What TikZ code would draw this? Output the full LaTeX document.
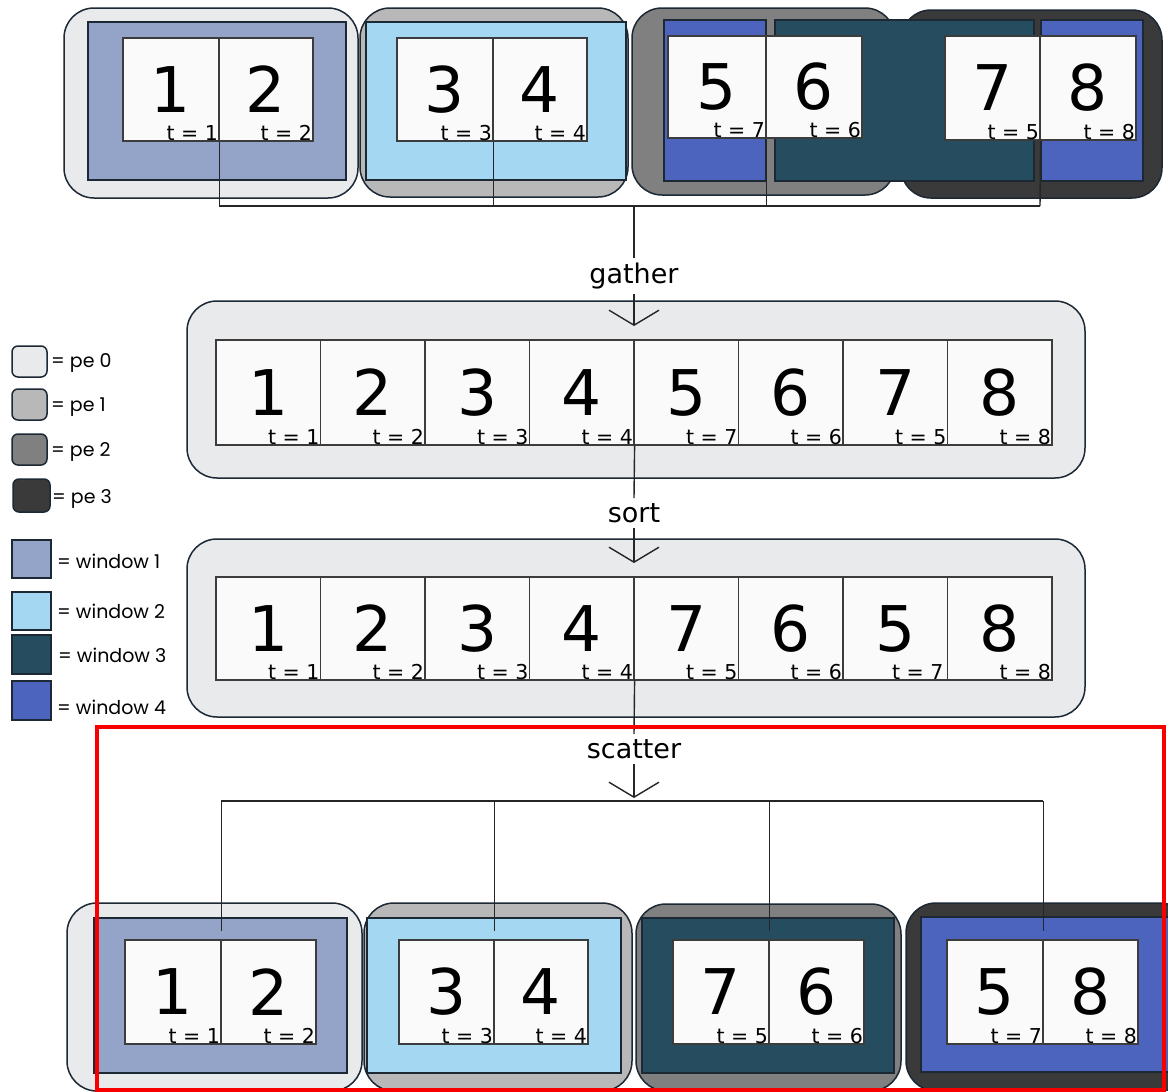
\documentclass[tikz,border=0pt]{standalone}
\usepackage{fontspec}
\setmainfont{DejaVu Sans}
\newfontfamily\popfont{Poppins}
\usetikzlibrary{fit,arrows.meta}
\definecolor{peA}{HTML}{E9EAEC}
\definecolor{peB}{HTML}{B8B8B8}
\definecolor{peC}{HTML}{808080}
\definecolor{peD}{HTML}{3A3A3A}
\definecolor{winA}{HTML}{94A3C8}
\definecolor{winB}{HTML}{A4D8F2}
\definecolor{winC}{HTML}{264C60}
\definecolor{winD}{HTML}{4C64BE}
\definecolor{edgec}{HTML}{1C2834}
\definecolor{cellline}{HTML}{3C3C3C}
\definecolor{cellfill}{HTML}{FAFAFA}
\definecolor{redc}{HTML}{F80000}
\tikzset{
 pebox/.style={draw=edgec, line width=1.5pt, rounded corners=30pt, inner sep=0pt},
 winbox/.style={draw=edgec, line width=1.5pt, inner sep=0pt},
 cellbox/.style={draw=cellline, fill=cellfill, line width=1.2pt, inner sep=0pt},
 bigbox/.style={draw=edgec, fill=peA, line width=1.5pt, rounded corners=30pt, inner sep=0pt},
 bigdigit/.style={font=\fontsize{63}{63}\selectfont, inner sep=0pt},
 tlab/.style={font=\fontsize{20.5}{21}\selectfont, inner sep=0pt, anchor=base east},
 opname/.style={font=\fontsize{27}{27}\selectfont, inner sep=5pt},
 conn/.style={draw=black!85, line width=1.4pt},
 arrowtip/.style={-{Straight Barb[length=15pt,width=50pt]}},
 legtxt/.style={font=\popfont\fontsize{19}{19}\selectfont, anchor=west, inner sep=0pt},
}
\newcommand\mkcell[8]{%
 \node[cellbox, fit={(#2,#3) (#4,#5)}] (#1) {};
 \node[bigdigit] (#1d) at (#1.center) {#6};
 \node[tlab,#8] (#1t) at ([xshift=-1.5pt,yshift=1.5pt]#1.south east) {t = #7};
}
\begin{document}
\begin{tikzpicture}[x=1pt,y=-1pt]
\fill[white] (0,0) rectangle (1168,1092);
\clip (0,0) rectangle (1168,1092);

% ---------- top row ----------
\node[pebox, fill=peA, fit={(64,8) (358,198)}] (tp0) {};
\node[pebox, fill=peB, fit={(360,8) (628,197)}] (tp1) {};
\node[pebox, fill=peC, fit={(632,8) (895,195)}] (tp2) {};
\node[pebox, fill=peD, fit={(901,10) (1162,198)}] (tp3) {};
\node[winbox, fill=winA, fit={(88,22) (346,180)}] (tw1) {};
\node[winbox, fill=winB, fit={(366,22) (626,180)}] (tw2) {};
\node[winbox, fill=winD, fit={(664,20) (766,181)}] (tw4a) {};
\node[winbox, fill=winC, fit={(775,20) (1034,181)}] (tw3) {};
\node[winbox, fill=winD, fit={(1041,20) (1143,181)}] (tw4b) {};
\mkcell{ta}{123}{38}{219}{141}{1}{1}{}
\mkcell{tb}{219}{38}{313}{141}{2}{2}{}
\mkcell{tc}{397}{38}{493}{141}{3}{3}{}
\mkcell{td}{493}{38}{587}{141}{4}{4}{}
\mkcell{te}{668}{36}{766}{138}{5}{7}{}
\mkcell{tf}{766}{36}{862}{138}{6}{6}{}
\mkcell{tg}{945}{36}{1040}{140}{7}{5}{}
\mkcell{th}{1040}{36}{1136}{140}{8}{8}{}

\coordinate (tbusR) at (1040,206);
\coordinate (tbusM) at (634,206);
\draw[conn] (ta.south east) |- (tbusR);
\draw[conn] (tc.south east) -- (tc.south east |- tbusR);
\draw[conn] (te.south east) -- (te.south east |- tbusR);
\draw[conn] (tg.south east) -- (tbusR);

% ---------- gather box ----------
\node[bigbox, fit={(187,301) (1085,478)}] (gbox) {};
\mkcell{ma}{216}{340}{320.5}{445}{1}{1}{}
\mkcell{mb}{320.5}{340}{425}{445}{2}{2}{}
\mkcell{mc}{425}{340}{529.5}{445}{3}{3}{}
\mkcell{md}{529.5}{340}{634}{445}{4}{4}{}
\mkcell{me}{634}{340}{738.5}{445}{5}{7}{}
\mkcell{mf}{738.5}{340}{843}{445}{6}{6}{}
\mkcell{mg}{843}{340}{947.5}{445}{7}{5}{}
\mkcell{mh}{947.5}{340}{1052}{445}{8}{8}{}

\node[opname] (gather) at (634,276) {gather};
\draw[conn] (tbusM) -- (gather.north);
\coordinate (gtip) at (634,326);
\draw[conn, arrowtip] (gather.south) -- (gtip);

% ---------- sort box ----------
\node[bigbox, fit={(187,539) (1085,717)}] (sbox) {};
\mkcell{sa}{216}{577}{320.5}{680}{1}{1}{}
\mkcell{sb}{320.5}{577}{425}{680}{2}{2}{}
\mkcell{sc}{425}{577}{529.5}{680}{3}{3}{}
\mkcell{sd}{529.5}{577}{634}{680}{4}{4}{}
\mkcell{se}{634}{577}{738.5}{680}{7}{5}{}
\mkcell{sf}{738.5}{577}{843}{680}{6}{6}{}
\mkcell{sg}{843}{577}{947.5}{680}{5}{7}{xshift=-3pt}
\mkcell{sh}{947.5}{577}{1052}{680}{8}{8}{}

\node[opname] (sort) at (634,513) {sort};
\draw[conn] (md.south east) -- (sort.north);
\coordinate (stip) at (634,563);
\draw[conn, arrowtip] (sort.south) -- (stip);

% ---------- scatter ----------
\node[opname] (scatter) at (634,749) {scatter};
\draw[conn] (sd.south east) -- (scatter.north);
\coordinate (ctip) at (634,798);
\draw[conn, arrowtip] (scatter.south) -- (ctip);

% ---------- bottom row ----------
\node[pebox, fill=peA, fit={(67,903) (362,1091)}] (bp0) {};
\node[pebox, fill=peB, fit={(364,903) (632,1091)}] (bp1) {};
\node[pebox, fill=peC, fit={(636,904) (901,1091)}] (bp2) {};
\node[pebox, fill=peD, fit={(906,903) (1190,1091)}] (bp3) {};
\node[winbox, fill=winA, fit={(94,918) (347,1073)}] (bw1) {};
\node[winbox, fill=winB, fit={(367,918) (621,1073)}] (bw2) {};
\node[winbox, fill=winC, fit={(642,918) (894,1073)}] (bw3) {};
\node[winbox, fill=winD, fit={(921,917) (1175,1072)}] (bw4) {};
\mkcell{ba}{125}{940}{221}{1044}{1}{1}{}
\mkcell{bb}{221}{940}{316}{1044}{2}{2}{}
\mkcell{bc}{399}{940}{494}{1044}{3}{3}{}
\mkcell{bd}{494}{940}{588}{1044}{4}{4}{}
\mkcell{be}{673}{940}{769}{1044}{7}{5}{}
\mkcell{bf}{769}{940}{864}{1044}{6}{6}{}
\mkcell{bg}{947}{940}{1043}{1044}{5}{7}{}
\mkcell{bh}{1043}{940}{1138}{1044}{8}{8}{}

\coordinate (cbusL) at (221,801);
\coordinate (cbusR) at (1043,801);
\draw[conn] (cbusL) -- (cbusR);
\draw[conn] (ba.north east |- cbusL) -- ([yshift=8pt]ba.north east);
\draw[conn] (bc.north east |- cbusL) -- ([yshift=8pt]bc.north east);
\draw[conn] (be.north east |- cbusL) -- ([yshift=8pt]be.north east);
\draw[conn] (bg.north east |- cbusL) -- ([yshift=8pt]bg.north east);

% ---------- legend ----------
\node[pebox, rounded corners=6pt, fill=peA, fit={(12,346) (47,377)}] (lp0) {};
\node[legtxt] (lp0t) at (51,363) {= pe 0};
\node[pebox, rounded corners=6pt, fill=peB, fit={(12,389) (47,420)}] (lp1) {};
\node[legtxt] (lp1t) at (51,407) {= pe 1};
\node[pebox, rounded corners=6pt, fill=peC, fit={(12,434) (47,465)}] (lp2) {};
\node[legtxt] (lp2t) at (51,452) {= pe 2};
\node[pebox, rounded corners=6pt, fill=peD, fit={(13,479) (50,512)}] (lp3) {};
\node[legtxt] (lp3t) at (52,499) {= pe 3};
\node[winbox, fill=winA, fit={(12,540) (51,578)}] (lw1) {};
\node[legtxt] (lw1t) at (57,561) {= window 1};
\node[winbox, fill=winB, fit={(12,592) (51,630)}] (lw2) {};
\node[legtxt] (lw2t) at (57,611) {= window 2};
\node[winbox, fill=winC, fit={(12,635) (51,674)}] (lw3) {};
\node[legtxt] (lw3t) at (58,655) {= window 3};
\node[winbox, fill=winD, fit={(12,681) (51,720)}] (lw4) {};
\node[legtxt] (lw4t) at (57,707) {= window 4};

% ---------- highlight frame ----------
\node[draw=redc, line width=4pt, inner sep=0pt, fit={(97,727) (1164,1090)}] (focus) {};
\end{tikzpicture}
\end{document}
